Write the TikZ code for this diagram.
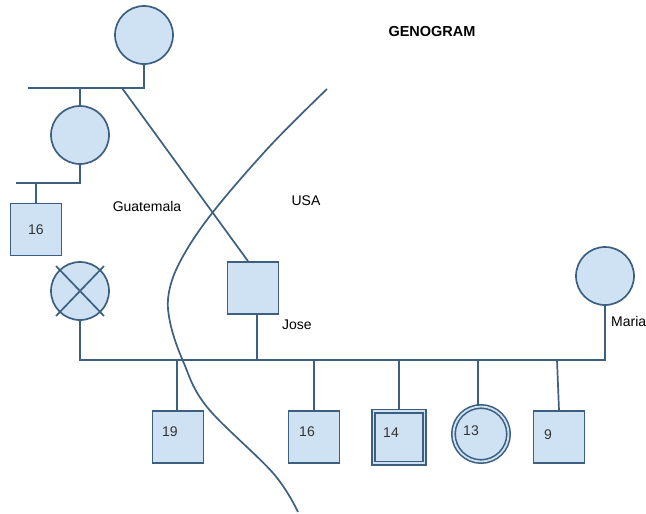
\documentclass[tikz,border=0pt]{standalone}
\usepackage{fontspec}
\setmainfont{Liberation Sans}
\usetikzlibrary{positioning}

\definecolor{boxfill}{HTML}{CFE2F3}
\definecolor{boxline}{HTML}{3D5F80}

\begin{document}
\begin{tikzpicture}[
    x=1pt, y=-1pt,
    font=\fontsize{14}{16}\selectfont,
    person/.style={draw=boxline, fill=boxfill, line width=1.7pt},
    female/.style={person, circle, minimum size=58pt, inner sep=0pt},
    male/.style={person, rectangle, minimum width=51pt, minimum height=52pt, inner sep=0pt},
    twin/.style={double=boxfill, double distance=1.8pt, line width=1.6pt},
    rel/.style={draw=boxline, line width=1.7pt},
    num/.style={inner sep=0pt, text=black!80}
]
\useasboundingbox (0,0) rectangle (646,514);

% border between the two countries
\draw[rel] plot[smooth, tension=0.6] coordinates {(327,89) (270,146) (213,212) (182,258) (169,292) (170,322) (183,361) (207,407) (273,473) (298,512)};

% older generations
\node[female] (grandma) at (144,35) {};
\node[female] (mother) at (80,135) {};
\node[male] (uncle) at (36,229.5) {};
\node[num] (uncleage) at (uncle.center) {16};
\node[female] (deceased) at (80,291) {};
\draw[rel] ([shift={(-24,-25)}]deceased.center) -- ([shift={(24,25)}]deceased.center);
\draw[rel] ([shift={(-24,25)}]deceased.center) -- ([shift={(24,-25)}]deceased.center);

% parents
\node[male] (jose) at (253,288) {};
\node[female] (maria) at (605,276) {};
\node[anchor=west, inner sep=0pt] (josename) at (282,325) {Jose};
\node[anchor=west, inner sep=0pt] (marianame) at (611,321) {Maria};

% children
\node[male] (kid19) at (178,437) {};
\node[male] (kid16) at (314,437) {};
\node[male, twin] (kid14) at (399,437) {};
\node[female, twin, minimum size=55pt] (kid13) at (481,434) {};
\node[male] (kid9) at (559,437) {};
\node[num] (age19) at ([shift={(-8,-5)}]kid19.center) {19};
\node[num] (age16) at ([shift={(-7,-5)}]kid16.center) {16};
\node[num] (age14) at ([shift={(-8,-4)}]kid14.center) {14};
\node[num] (age13) at ([shift={(-10,-3)}]kid13.center) {13};
\node[num] (age9) at ([shift={(-11,-2)}]kid9.center) {9};

% labels
\node[font=\fontsize{14.5}{16}\selectfont\bfseries] (title) at (432,32) {GENOGRAM};
\node (guat) at (147,206) {Guatemala};
\node (usa) at (306,201) {USA};

% family lines
\coordinate (toprow) at (28,88);
\coordinate (midrow) at (16,183);
\coordinate (base) at (81,360);
\coordinate (emigrate) at (122,88);
\draw[rel] (grandma.south) |- (toprow);
\draw[rel] (mother.north) -- (mother.north |- toprow);
\draw[rel] (emigrate) -- ([xshift=-5]jose.north);
\draw[rel] (mother.south) |- (midrow);
\draw[rel] (uncle.north) -- (uncle.north |- midrow);
\draw[rel] (deceased.south) |- (maria.south |- base) -- (maria.south);
\draw[rel] ([xshift=4]jose.south) -- ([xshift=4]jose.south |- base);
\draw[rel] ([xshift=-1]kid19.north) -- ([xshift=-1]kid19.north |- base);
\draw[rel] (kid16.north) -- (kid16.north |- base);
\draw[rel] (kid14.north) -- (kid14.north |- base);
\draw[rel] ([xshift=-3]kid13.north) -- ([xshift=-3]kid13.north |- base);
\draw[rel] (kid9.north) -- ([xshift=-2]kid9.north |- base);
\end{tikzpicture}
\end{document}
